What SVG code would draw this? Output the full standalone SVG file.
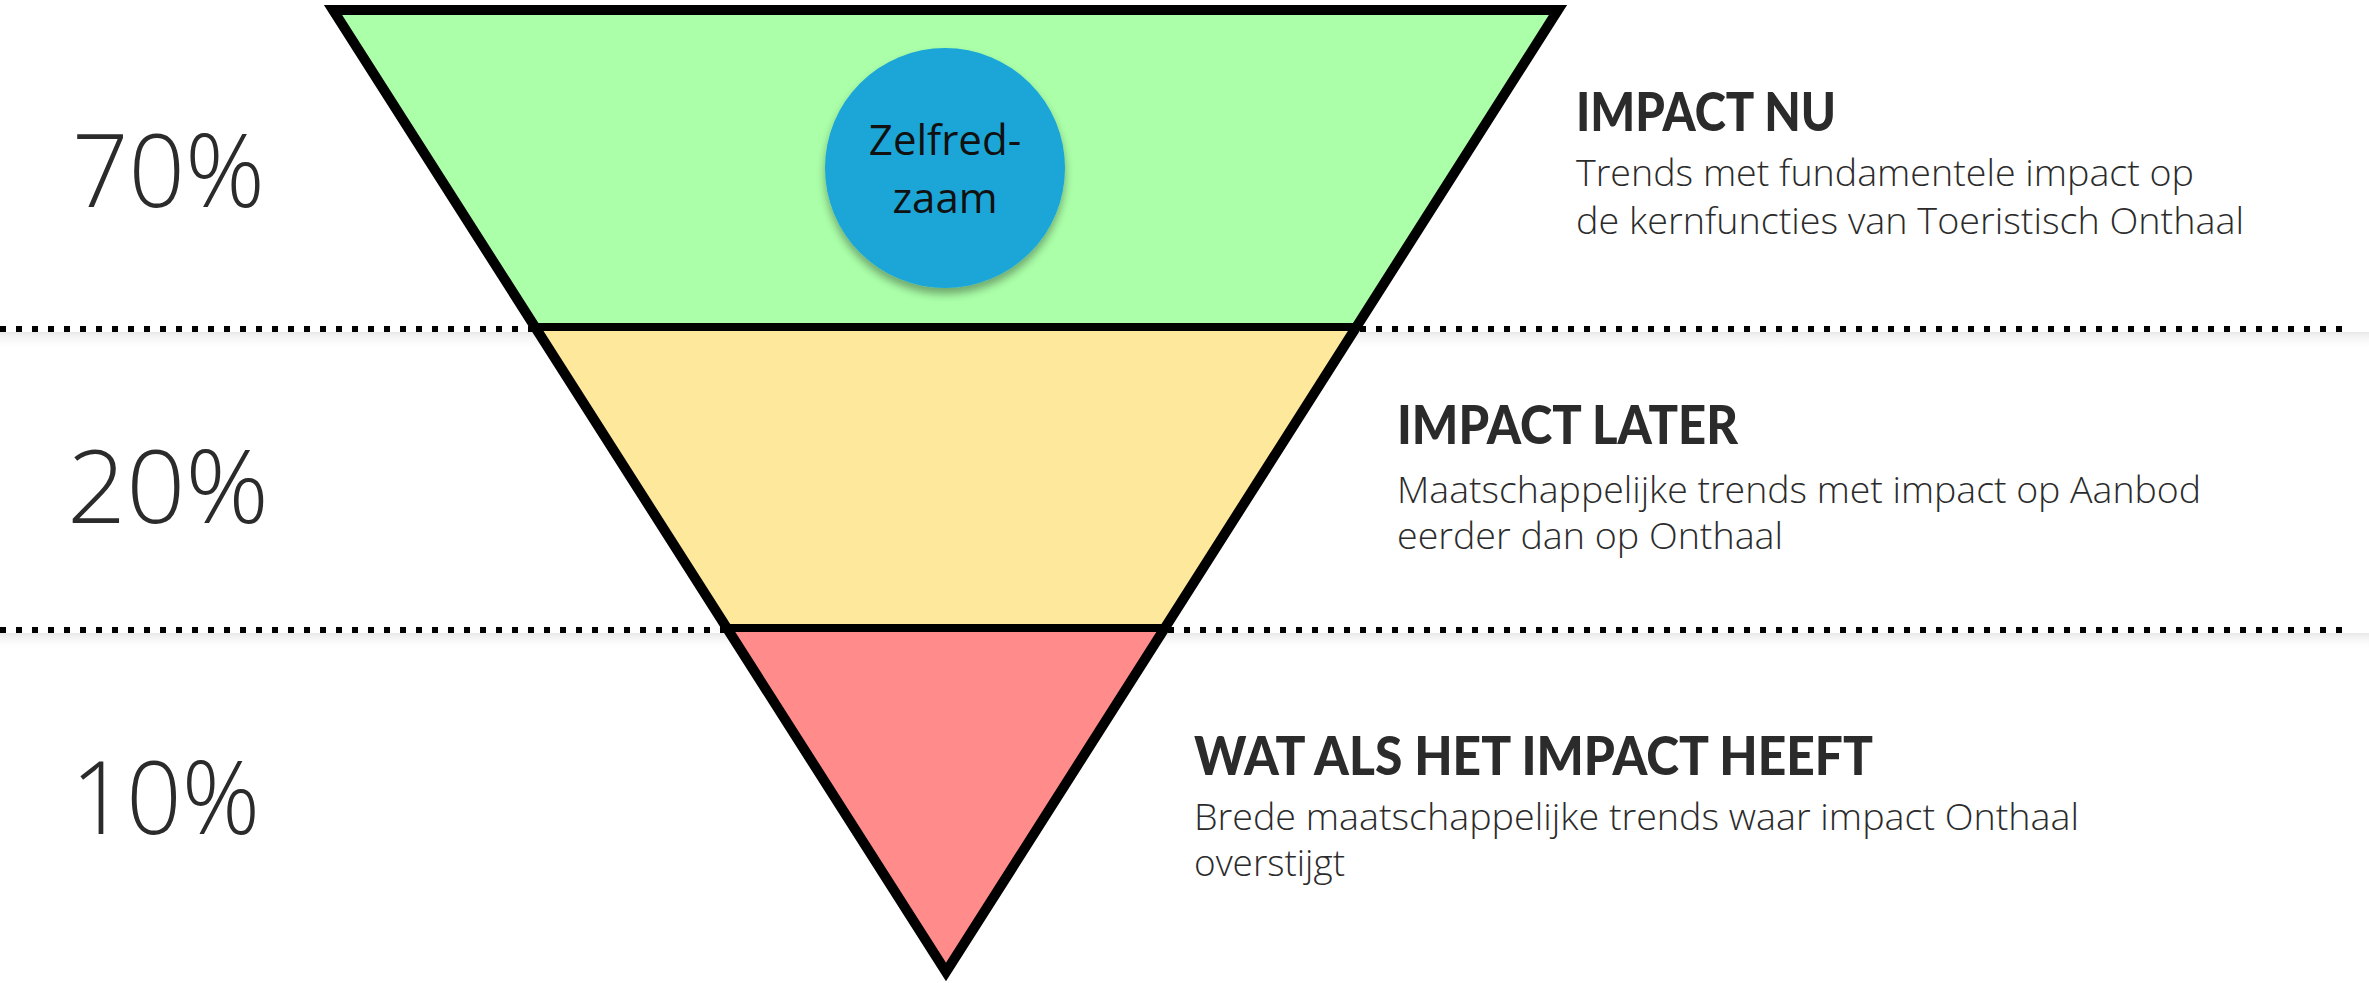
<svg xmlns="http://www.w3.org/2000/svg" width="2369" height="983" viewBox="0 0 2369 983">
  <style>
    .pct { font-family: "Open Sans", "Liberation Sans", sans-serif; font-weight: 300; font-size: 102px; fill: #2b2b2b; }
    .head { font-family: "Lato", "Liberation Sans", sans-serif; font-weight: 900; font-size: 53px; fill: #2b2b2b; }
    .body { font-family: "Open Sans", "Liberation Sans", sans-serif; font-weight: 300; font-size: 36px; fill: #2b2b2b; }
    .dots { stroke: #000; stroke-width: 6; stroke-dasharray: 6 10; fill: none; }
    .sep { stroke: #000; stroke-width: 8; }
    .label { font-family: "Open Sans", "Liberation Sans", sans-serif; font-size: 42px; fill: #111; text-anchor: middle; }
  </style>
  <defs>
    <linearGradient id="haze" x1="0" y1="0" x2="0" y2="1">
      <stop offset="0" stop-color="#e6e6e6" stop-opacity="0.9"/>
      <stop offset="1" stop-color="#ffffff" stop-opacity="0"/>
    </linearGradient>
    <clipPath id="funnel">
      <polygon points="333,10 1558,10 946,972"/>
    </clipPath>
    <filter id="drop" x="-20%" y="-20%" width="140%" height="150%">
      <feGaussianBlur in="SourceAlpha" stdDeviation="4"/>
      <feOffset dy="6"/>
      <feComponentTransfer><feFuncA type="linear" slope="0.35"/></feComponentTransfer>
      <feMerge><feMergeNode/><feMergeNode in="SourceGraphic"/></feMerge>
    </filter>
  </defs>

  <rect width="2369" height="983" fill="#ffffff"/>

  <!-- soft shading under the dotted dividers -->
  <rect x="0" y="332" width="2369" height="18" fill="url(#haze)"/>
  <rect x="0" y="633" width="2369" height="18" fill="url(#haze)"/>

  <!-- dotted dividers -->
  <g id="dividers">
    <line class="dots" x1="0" y1="329" x2="2348" y2="329"/>
    <line class="dots" x1="0" y1="630" x2="2348" y2="630"/>
  </g>

  <!-- funnel bands -->
  <g id="funnel-bands" clip-path="url(#funnel)">
    <rect id="band-now" x="300" y="0" width="1300" height="327" fill="#aaffa8"/>
    <rect id="band-later" x="300" y="327" width="1300" height="301" fill="#fde89c"/>
    <rect id="band-whatif" x="300" y="628" width="1300" height="360" fill="#ff8c8a"/>
    <line class="sep" x1="300" y1="327" x2="1600" y2="327"/>
    <line class="sep" x1="300" y1="628" x2="1600" y2="628"/>
  </g>
  <polygon id="funnel-outline" points="333,10 1558,10 946,972" fill="none" stroke="#000" stroke-width="10" stroke-linejoin="miter"/>

  <!-- bubble -->
  <g id="node-zelfredzaam">
    <circle cx="945" cy="168" r="120" fill="#1ba6d8" filter="url(#drop)"/>
    <text class="label" x="945" y="155">Zelfred-</text>
    <text class="label" x="945" y="213">zaam</text>
  </g>

  <!-- percentages -->
  <g id="pct-70"><text class="pct" x="72" y="207" textLength="193" lengthAdjust="spacingAndGlyphs">70%</text></g>
  <g id="pct-20"><text class="pct" x="67" y="523" textLength="202" lengthAdjust="spacingAndGlyphs">20%</text></g>
  <g id="pct-10"><text class="pct" x="71" y="834" textLength="189" lengthAdjust="spacingAndGlyphs">10%</text></g>

  <!-- descriptions -->
  <g id="desc-now">
    <text class="head" x="1576" y="131" textLength="260" lengthAdjust="spacingAndGlyphs">IMPACT NU</text>
    <text class="body" x="1576" y="186" textLength="618" lengthAdjust="spacingAndGlyphs">Trends met fundamentele impact op</text>
    <text class="body" x="1576" y="234" textLength="668" lengthAdjust="spacingAndGlyphs">de kernfuncties van Toeristisch Onthaal</text>
  </g>
  <g id="desc-later">
    <text class="head" x="1397" y="444" textLength="341" lengthAdjust="spacingAndGlyphs">IMPACT LATER</text>
    <text class="body" x="1397" y="503" textLength="804" lengthAdjust="spacingAndGlyphs">Maatschappelijke trends met impact op Aanbod</text>
    <text class="body" x="1397" y="549" textLength="386" lengthAdjust="spacingAndGlyphs">eerder dan op Onthaal</text>
  </g>
  <g id="desc-whatif">
    <text class="head" x="1194" y="775" textLength="679" lengthAdjust="spacingAndGlyphs">WAT ALS HET IMPACT HEEFT</text>
    <text class="body" x="1194" y="830" textLength="885" lengthAdjust="spacingAndGlyphs">Brede maatschappelijke trends waar impact Onthaal</text>
    <text class="body" x="1194" y="876" textLength="151" lengthAdjust="spacingAndGlyphs">overstijgt</text>
  </g>
</svg>
